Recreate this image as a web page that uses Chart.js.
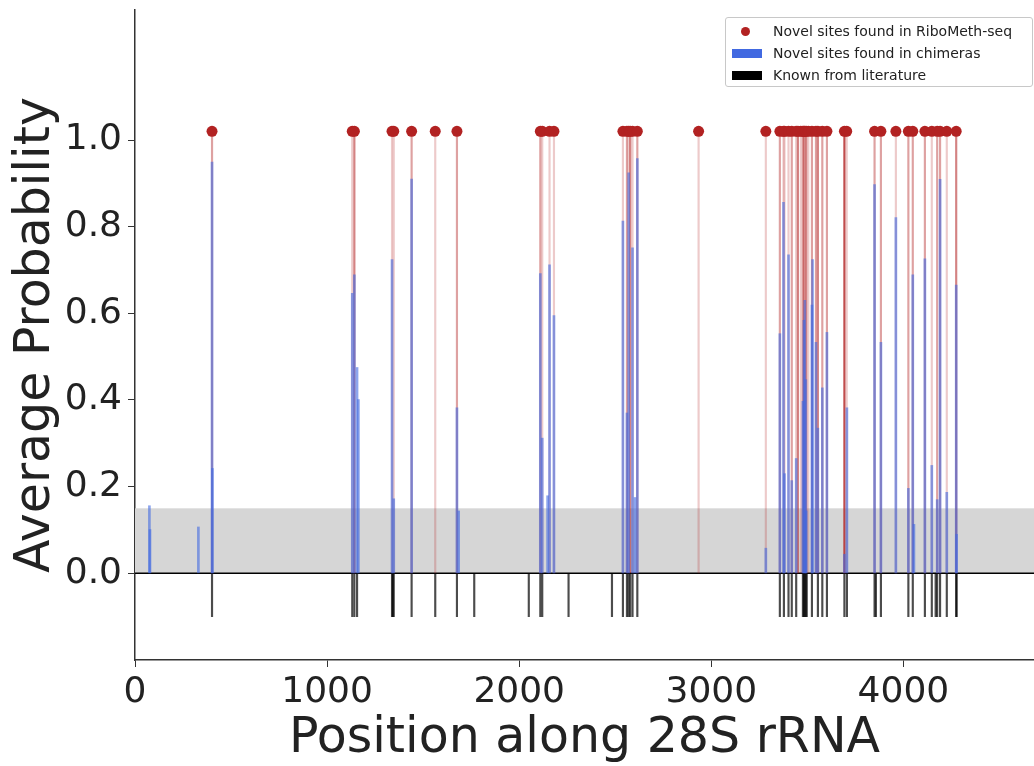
<!DOCTYPE html>
<html>
<head>
<meta charset="utf-8">
<title>Methylation sites along 28S rRNA</title>
<script src="https://cdn.jsdelivr.net/npm/chart.js@4.4.1/dist/chart.umd.min.js"></script>
<style>
  html, body { margin: 0; padding: 0; background: #fff; }
  #wrap { position: relative; width: 1034px; height: 766px; }
  #legend {
    position: absolute; left: 725px; top: 17px; width: 308px; height: 70px;
    box-sizing: border-box; border: 1px solid #c8c8c8; border-radius: 3px;
    background: #fff; font: 14px "DejaVu Sans", sans-serif; color: #222;
  }
  .row { position: absolute; left: 0; height: 22px; line-height: 22px; white-space: nowrap; }
  .row span.txt { position: absolute; left: 47px; top: 0; }
  .mk { position: absolute; }
</style>
</head>
<body>
<div id="wrap">
  <canvas id="chart" width="1034" height="766"></canvas>
  <div id="legend">
    <div class="row" style="top:2px"><span class="mk" style="left:15px;top:7px;width:9px;height:9px;border-radius:50%;background:#b22222"></span><span class="txt">Novel sites found in RiboMeth-seq</span></div>
    <div class="row" style="top:24px"><span class="mk" style="left:6px;top:7px;width:30px;height:9px;background:#4169e1"></span><span class="txt">Novel sites found in chimeras</span></div>
    <div class="row" style="top:46px"><span class="mk" style="left:6px;top:7px;width:30px;height:9px;background:#000"></span><span class="txt">Known from literature</span></div>
  </div>
</div>
<script>
/* ----------------------------------------------------------
   DATA
---------------------------------------------------------- */
// novel sites seen in RiboMeth-seq, and how many samples call each one
const riboPos = [401, 1131, 1142, 1338, 1347, 1440, 1563, 1676, 2110, 2120, 2158, 2181,
  2540, 2561, 2570, 2578, 2590, 2615, 2934, 3284,
  3357, 3376, 3381, 3402, 3419, 3442, 3451, 3466, 3477, 3482, 3487, 3494, 3505,
  3524, 3545, 3555, 3578, 3602, 3693, 3705, 3850, 3883, 3961, 4026, 4049,
  4112, 4148, 4176, 4191, 4226, 4275];
const riboSamples = [2, 1, 3, 1, 1, 2, 1, 2, 2, 1, 1, 1,
  1, 2, 1, 3, 1, 2, 1, 1,
  2, 1, 1, 1, 2, 1, 3, 1, 2, 2, 1, 3, 1,
  2, 2, 3, 2, 2, 6, 1, 2, 2, 1, 2, 2,
  2, 1, 2, 2, 1, 3];

// novel sites found in chimeras: position and average probability
const chimeraPos = [75, 78, 330, 401, 403, 1131, 1142, 1156, 1163, 1338, 1347, 1440,
  1676, 1685, 2110, 2120, 2148, 2158, 2181, 2540, 2561, 2570, 2590, 2603, 2615,
  3284, 3357, 3376, 3381, 3402, 3419, 3442, 3477, 3482, 3487, 3492, 3494,
  3524, 3527, 3545, 3555, 3578, 3602, 3693, 3706, 3850, 3883, 3961,
  4026, 4049, 4055, 4112, 4148, 4176, 4191, 4226, 4275, 4277];
const chimeraProb = [0.156, 0.101, 0.107, 0.949, 0.242, 0.646, 0.689, 0.475, 0.401, 0.724, 0.172, 0.910,
  0.382, 0.144, 0.692, 0.312, 0.179, 0.712, 0.595, 0.813, 0.370, 0.924, 0.751, 0.175, 0.957,
  0.058, 0.553, 0.856, 0.230, 0.735, 0.214, 0.265, 0.397, 0.584, 0.630, 0.447, 0.144,
  0.619, 0.724, 0.533, 0.335, 0.428, 0.556, 0.044, 0.382, 0.897, 0.533, 0.821,
  0.196, 0.689, 0.113, 0.726, 0.249, 0.170, 0.909, 0.187, 0.665, 0.090];

// sites known from literature
const knownPos = [401, 1131, 1142, 1156, 1338, 1342, 1347, 1440, 1563, 1676, 1766,
  2050, 2110, 2120, 2257, 2483, 2540, 2561, 2570, 2578, 2590, 2615,
  3357, 3378, 3402, 3419, 3442, 3477, 3482, 3487, 3492, 3497, 3524, 3555, 3578, 3602,
  3693, 3706, 3850, 3857, 3883, 4026, 4049, 4112, 4148, 4168, 4176, 4191, 4226, 4275, 4277];

const xTicks = [0, 1000, 2000, 3000, 4000];
const yTicks = [0, 0.2, 0.4, 0.6, 0.8, 1.0];

const DOT_LEVEL = 1.02;    // where RiboMeth-seq markers sit
const NOISE_LEVEL = 0.15;  // grey background band
const KNOWN_DEPTH = -0.1;  // literature ticks hang below zero
const X_MAX = 4680;

/* ----------------------------------------------------------
   helpers
---------------------------------------------------------- */
const FONT = '"DejaVu Sans", sans-serif';
const redAlpha = n => (1 - Math.pow(0.76, n)).toFixed(3);

// grey band + zero line, drawn under the bars
const bandPlugin = {
  id: "band",
  beforeDatasetsDraw(chart) {
    const { ctx, chartArea: a, scales: { y } } = chart;
    const top = y.getPixelForValue(NOISE_LEVEL);
    const base = y.getPixelForValue(0);
    ctx.save();
    ctx.fillStyle = "rgb(214,214,214)";
    ctx.fillRect(a.left, top, a.right - a.left, base - top);
    ctx.strokeStyle = "#000";
    ctx.lineWidth = 1.5;
    ctx.beginPath();
    ctx.moveTo(a.left, base);
    ctx.lineTo(a.right, base);
    ctx.stroke();
    ctx.restore();
  }
};

/* ----------------------------------------------------------
   CHART
---------------------------------------------------------- */
new Chart(document.getElementById("chart"), {
  type: "bar",
  data: {
    datasets: [
      {
        type: "scatter",
        label: "Novel sites found in RiboMeth-seq",
        data: riboPos.map(p => ({ x: p, y: DOT_LEVEL })),
        backgroundColor: "#b22222",
        borderWidth: 0,
        pointRadius: 5.5,
        order: 0
      },
      {
        label: "Novel sites found in chimeras",
        data: chimeraPos.map((p, i) => ({ x: p, y: chimeraProb[i] })),
        backgroundColor: "rgba(65,105,225,0.6)",
        barThickness: 2,
        grouped: false,
        order: 1
      },
      {
        label: "Known from literature",
        data: knownPos.map(p => ({ x: p, y: [KNOWN_DEPTH, 0] })),
        backgroundColor: "rgba(0,0,0,0.7)",
        barThickness: 1.5,
        grouped: false,
        order: 2
      },
      {
        label: "RiboMeth-seq stems",
        data: riboPos.map(p => ({ x: p, y: DOT_LEVEL })),
        backgroundColor: riboSamples.map(n => `rgba(178,34,34,${redAlpha(n)})`),
        barThickness: 1.5,
        grouped: false,
        order: 3
      }
    ]
  },
  options: {
    responsive: false,
    animation: false,
    // the source figure is cropped on the right, so let the plot run to the edge
    layout: { autoPadding: false, padding: { top: 10, right: 0, bottom: 0, left: 0 } },
    plugins: {
      legend: { display: false },
      tooltip: { enabled: false }
    },
    scales: {
      x: {
        type: "linear",
        min: 0,
        max: X_MAX,
        offset: false,
        afterBuildTicks: s => { s.ticks = xTicks.map(v => ({ value: v })); },
        afterFit: s => { s.height = 106; s.paddingLeft = 0; s.paddingRight = 0; },
        grid: { offset: false, drawOnChartArea: false, tickLength: 7, color: "#333", lineWidth: 1 },
        border: { display: true, color: "#333", width: 1.5 },
        ticks: {
          font: { family: FONT, size: 36 },
          color: "#222",
          padding: 4,
          maxRotation: 0,
          autoSkip: false,
          callback: v => String(v)
        },
        title: {
          display: true,
          text: "Position along 28S rRNA",
          font: { family: FONT, size: 49, lineHeight: 1.1 },
          color: "#222",
          padding: { top: 0, bottom: 0 }
        }
      },
      y: {
        min: -0.2,
        max: 1.3,
        afterBuildTicks: s => { s.ticks = yTicks.map(v => ({ value: v })); },
        afterFit: s => { s.width = 135; s.paddingTop = 0; s.paddingBottom = 0; },
        grid: { drawOnChartArea: false, tickLength: 7, color: "#333", lineWidth: 1 },
        border: { display: true, color: "#333", width: 1.5 },
        ticks: {
          font: { family: FONT, size: 36 },
          color: "#222",
          padding: 6,
          callback: v => Number(v).toFixed(1)
        },
        title: {
          display: true,
          text: "Average Probability",
          font: { family: FONT, size: 49, lineHeight: 1.2 },
          color: "#222",
          padding: { top: 7, bottom: 0 }
        }
      }
    }
  },
  plugins: [bandPlugin]
});
</script>
</body>
</html>
